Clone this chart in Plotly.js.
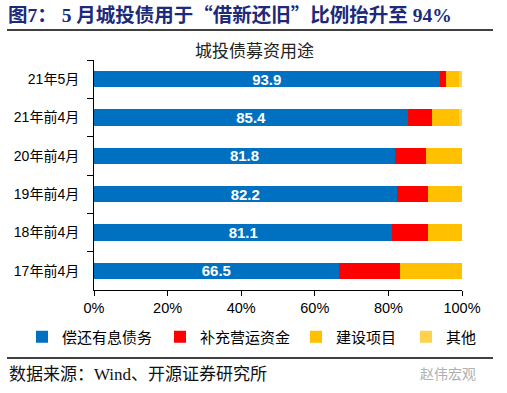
<!DOCTYPE html>
<html><head><meta charset="utf-8">
<script src="https://cdn.plot.ly/plotly-3.0.1.min.js"></script>
<style>html,body{margin:0;padding:0;background:#fff;}#chart{width:507px;height:393px;}</style>
</head><body><div id="chart"></div>
<script>
var categories = ["21年5月", "21年前4月", "20年前4月", "19年前4月", "18年前4月", "17年前4月"];
var seriesNames = ["偿还有息债务", "补充营运资金", "建设项目", "其他"];
var repayDebt = [93.9, 85.4, 81.8, 82.2, 81.1, 66.5];
var workingCapital = [1.8, 6.5, 8.5, 8.5, 9.7, 16.7];
var construction = [3.6, 7.4, 9.7, 9.3, 9.2, 16.8];
var other = [0.7, 0.7, 0, 0, 0, 0];
var xTickVals = [0, 20, 40, 60, 80, 100];
var xTickText = ["0%", "20%", "40%", "60%", "80%", "100%"];

var colors = ["#0070C0", "#FF0000", "#FFC000", "#FFD24D"];
var values = [repayDebt, workingCapital, construction, other];
var legendWidths = [93, 91, 65, 32];
var cjk = '"Liberation Sans", "Noto Sans CJK SC", sans-serif';

var traces = values.map(function (v, i) {
  var t = {
    type: 'bar', orientation: 'h', name: seriesNames[i],
    y: categories, x: v,
    marker: { color: colors[i], line: { width: 0 } },
    legendwidth: legendWidths[i],
    hoverinfo: 'skip'
  };
  if (i === 0) {
    t.text = v.map(function (a) { return a.toFixed(1); });
    t.textposition = 'inside';
    t.insidetextanchor = 'middle';
    t.constraintext = 'none';
    t.textfont = { color: '#ffffff', size: 15, family: '"Liberation Sans", Arial, sans-serif', weight: 'bold' };
  } else {
    t.textposition = 'none';
  }
  return t;
});

// pixel -> paper helpers (plot area: x 94..462, y 60..290)
var L = 94, R = 462, T = 60, B = 290;
function px(x) { return (x - L) / (R - L); }
function py(y) { return (B - y) / (B - T); }

var serifNum = 'font-family:\'Liberation Serif\',serif';
var layout = {
  width: 507, height: 393,
  margin: { l: L, r: 507 - R, t: T, b: 393 - B },
  paper_bgcolor: '#ffffff', plot_bgcolor: '#ffffff',
  barmode: 'stack', bargap: 0.58,
  showlegend: true,
  font: { family: cjk, color: '#000000' },
  title: {
    text: '<b>图<span style="' + serifNum + '">7</span>：<span style="' + serifNum + '"> 5 </span>月城投债用于“借新还旧”比例抬升至<span style="' + serifNum + '"> 94%</span></b>',
    x: 8 / 507, xanchor: 'left', xref: 'container',
    y: 1 - 15.5 / 393, yanchor: 'middle', yref: 'container',
    font: { size: 19.5, color: '#1C2A7A', family: '"Noto Sans CJK SC", "Liberation Serif", serif' }
  },
  xaxis: {
    range: [0, 100], tickvals: xTickVals, ticktext: xTickText,
    showgrid: false, zeroline: false,
    showline: true, linecolor: '#000000', linewidth: 1,
    ticks: 'outside', ticklen: 5, tickcolor: '#000000', tickwidth: 1,
    tickfont: { size: 14.5, family: '"Liberation Sans", Arial, sans-serif', color: '#000000' },
    fixedrange: true
  },
  yaxis: {
    autorange: 'reversed', type: 'category',
    showgrid: false, zeroline: false,
    showline: true, linecolor: '#000000', linewidth: 1,
    ticks: 'outside', ticklen: 6, tickcolor: '#000000', tickson: 'boundaries',
    tickfont: { size: 14, family: cjk, color: '#000000' },
    ticklabelstandoff: 11,
    fixedrange: true
  },
  legend: {
    orientation: 'h', x: px(22), xanchor: 'left', y: py(337), yanchor: 'middle',
    font: { size: 15, family: cjk, color: '#000000' },
    traceorder: 'normal', itemclick: false, itemdoubleclick: false,
    bgcolor: 'rgba(0,0,0,0)', tracegroupgap: 0, borderwidth: 0
  },
  shapes: [
    { type: 'line', xref: 'paper', yref: 'paper', x0: px(7), x1: px(493), y0: py(30), y1: py(30), line: { color: '#000000', width: 1.5 } },
    { type: 'line', xref: 'paper', yref: 'paper', x0: px(7), x1: px(493), y0: py(358), y1: py(358), line: { color: '#000000', width: 1.5 } }
  ],
  annotations: [
    { text: '城投债募资用途', xref: 'paper', yref: 'paper', x: px(254), y: py(51), xanchor: 'center', yanchor: 'middle', showarrow: false,
      font: { size: 17, family: cjk, color: '#222222' } },
    { text: '数据来源：Wind、开源证券研究所', xref: 'paper', yref: 'paper', x: px(7), y: py(374), xanchor: 'left', yanchor: 'middle', showarrow: false,
      font: { size: 17, family: '"Liberation Serif", "Noto Sans CJK SC", serif', color: '#111111' } },
    { text: '赵伟宏观', xref: 'paper', yref: 'paper', x: px(418), y: py(374), xanchor: 'left', yanchor: 'middle', showarrow: false,
      font: { size: 14, family: cjk, color: '#b0b0b0' } }
  ]
};

Plotly.newPlot('chart', traces, layout, { displayModeBar: false, staticPlot: true });
</script></body></html>
